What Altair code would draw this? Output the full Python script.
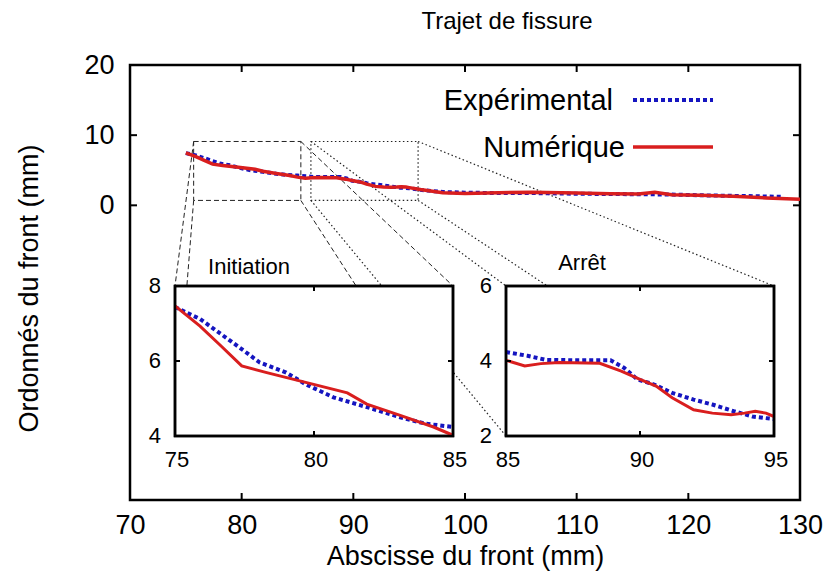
import altair as alt
import pandas as pd

# ---------------- data ----------------
exp_x = [75.0, 75.9, 77.1, 78.05, 79.0, 79.7, 80.7, 81.9, 83.1, 84.0, 85.0,
         85.8, 86.5, 87.6, 88.9, 89.4, 89.9, 90.5, 91.2, 92.0, 92.7, 93.5, 94.2, 95.0,
         96.0, 98.0, 100.0, 103.0, 106.0, 110.0, 114.0, 118.0, 122.0, 126.0, 128.5]
exp_y = [7.44, 7.12, 6.48, 5.96, 5.69, 5.38, 5.03, 4.77, 4.50, 4.33, 4.24,
         4.14, 4.03, 4.02, 4.02, 3.82, 3.51, 3.38, 3.15, 2.97, 2.84, 2.66, 2.52, 2.45,
         2.2, 1.9, 1.8, 1.75, 1.75, 1.65, 1.6, 1.55, 1.4, 1.3, 1.2]

num_x = [75.0, 75.9, 76.6, 77.4, 78.3, 79.7, 81.2, 81.9, 83.1, 84.3, 85.0,
         85.7, 86.3, 87.0, 88.5, 89.3, 90.0, 90.6, 91.2, 92.0, 92.7, 93.4, 93.9, 94.3, 94.7, 95.0,
         96.0, 98.0, 100.0, 103.0, 106.0, 110.0, 113.0, 115.5, 117.0, 118.5, 121.0, 124.0, 127.0, 130.0]
num_y = [7.47, 6.93, 6.44, 5.87, 5.69, 5.43, 5.15, 4.85, 4.55, 4.24, 4.02,
         3.87, 3.93, 3.96, 3.94, 3.73, 3.51, 3.33, 3.02, 2.70, 2.61, 2.57, 2.61, 2.66, 2.61, 2.52,
         2.25, 1.8, 1.7, 1.8, 1.85, 1.75, 1.65, 1.6, 1.85, 1.5, 1.45, 1.3, 1.05, 0.85]

x_labels = [70, 80, 90, 100, 110, 120, 130]
x_ticks = [80, 90, 100, 110, 120]
y_labels = [0, 10, 20]
y_ticks = [0, 10]

zoom1_x = [75.7, 85.3]
zoom2_x = [86.2, 95.8]
zoom_y = [0.7, 9.1]

ins1_x = [75, 80, 85]
ins1_y = [4, 6, 8]
ins2_x = [85, 90, 95]
ins2_y = [2, 4, 6]

# ---------------- layout / style ----------------
FONT = "Liberation Sans"
W, H = 670, 435
RED = "#d91e1e"
BLUE = "#1515c0"
XD = [70, 130]
YD = [-42, 20]

# inset boxes in plot pixels: left, right, top, bottom
BOX1 = (45, 323, 221, 371)
BOX2 = (376, 644, 221, 371)


def mx(px):
    return XD[0] + px * (XD[1] - XD[0]) / W


def my(py):
    return YD[1] - py * (YD[1] - YD[0]) / H


exp_df = pd.DataFrame({"x": exp_x, "y": exp_y})
num_df = pd.DataFrame({"x": num_x, "y": num_y})

sx = alt.Scale(domain=XD, nice=False, zero=False)
sy = alt.Scale(domain=YD, nice=False, zero=False)
MX = lambda f: alt.X(f, scale=sx, axis=None)
MY = lambda f: alt.Y(f, scale=sy, axis=None)

main_axis_x = alt.Axis(values=x_labels, ticks=False, domain=False, grid=False,
                       labelFontSize=27, labelFont=FONT, labelColor="black",
                       labelPadding=12, labelFlush=False, labelOverlap=False,
                       title="Abscisse du front (mm)", titleFontSize=27, titleFont=FONT,
                       titleFontWeight="normal", titleColor="black",
                       titleX=335, titleY=56, titleBaseline="middle", titleAlign="center")
main_axis_y = alt.Axis(values=y_labels, ticks=False, domain=False, grid=False,
                       labelFontSize=27, labelFont=FONT, labelColor="black",
                       labelPadding=16, labelFlush=False, labelOverlap=False,
                       title="Ordonnés du front (mm)", titleFontSize=27, titleFont=FONT,
                       titleFontWeight="normal", titleColor="black",
                       titleX=-101, titleY=223, titleBaseline="middle", titleAlign="center",
                       titleAngle=270)


def conn_df(zx, box):
    L, R, T, B = box
    rows = [
        (zx[0], zoom_y[1], mx(L), my(T)),
        (zx[0], zoom_y[0], mx(L), my(B)),
        (zx[1], zoom_y[1], mx(R), my(T)),
        (zx[1], zoom_y[0], mx(R), my(B)),
    ]
    return pd.DataFrame(rows, columns=["x", "y", "x2", "y2"])


def zoom_layers(zx, box, dash, width):
    rect = alt.Chart(pd.DataFrame({"x": [zx[0]], "x2": [zx[1]], "y": [zoom_y[0]], "y2": [zoom_y[1]]})).mark_rect(
        fill=None, fillOpacity=0, stroke="#222", strokeWidth=width, strokeDash=dash
    ).encode(x=MX("x:Q"), x2="x2:Q", y=MY("y:Q"), y2="y2:Q")
    conn = alt.Chart(conn_df(zx, box)).mark_rule(
        stroke="#222", strokeWidth=width, strokeDash=dash
    ).encode(x=MX("x:Q"), x2="x2:Q", y=MY("y:Q"), y2="y2:Q")
    return [rect, conn]


main_exp = alt.Chart(exp_df).mark_line(color=BLUE, strokeWidth=4, strokeDash=[4, 3]).encode(
    x=alt.X("x:Q", scale=sx, axis=main_axis_x),
    y=alt.Y("y:Q", scale=sy, axis=main_axis_y),
    order="x:Q",
)
main_num = alt.Chart(num_df).mark_line(color=RED, strokeWidth=3.5).encode(
    x=MX("x:Q"), y=MY("y:Q"), order="x:Q",
)

xt_df = pd.DataFrame({"t": x_ticks})
yt_df = pd.DataFrame({"t": y_ticks})
TL = 7
main_ticks = [
    alt.Chart(xt_df).mark_rule(color="black", strokeWidth=2).encode(
        x=MX("t:Q"), y=alt.value(H), y2=alt.value(H - TL)),
    alt.Chart(xt_df).mark_rule(color="black", strokeWidth=2).encode(
        x=MX("t:Q"), y=alt.value(0), y2=alt.value(TL)),
    alt.Chart(yt_df).mark_rule(color="black", strokeWidth=2).encode(
        y=MY("t:Q"), x=alt.value(0), x2=alt.value(TL)),
    alt.Chart(yt_df).mark_rule(color="black", strokeWidth=2).encode(
        y=MY("t:Q"), x=alt.value(W), x2=alt.value(W - TL)),
]

# legend
leg_text = alt.Chart(pd.DataFrame({"t": ["Expérimental", "Numérique"], "px": [483, 495], "py": [45, 92]})).mark_text(
    align="right", baseline="alphabetic", font=FONT, fontSize=29, color="black"
).encode(text="t:N", x=alt.X("px:Q", scale=None, axis=None), y=alt.Y("py:Q", scale=None, axis=None))
leg_exp = alt.Chart(pd.DataFrame({"t": ["Expérimental"]})).mark_rule(
    color=BLUE, strokeWidth=4, strokeDash=[4, 3]).encode(x=alt.value(503), x2=alt.value(583), y=alt.value(35))
leg_num = alt.Chart(pd.DataFrame({"t": ["Numérique"]})).mark_rule(
    color=RED, strokeWidth=3.5).encode(x=alt.value(503), x2=alt.value(583), y=alt.value(82))

title = alt.Chart(pd.DataFrame({"t": ["Trajet de fissure"]})).mark_text(
    align="center", baseline="middle", font=FONT, fontSize=24, color="black"
).encode(text="t:N", x=alt.value(377), y=alt.value(-43))

main_layers = [
    *zoom_layers(zoom1_x, BOX1, [5, 3], 1),
    *zoom_layers(zoom2_x, BOX2, [1.5, 2.5], 1.2),
    main_exp, main_num, *main_ticks, leg_text, leg_exp, leg_num, title,
]


def inset(xd, yd, box, xl, yl, name, tpos):
    L, R, T, B = box
    xs = alt.Scale(domain=xd, range=[L, R], nice=False, zero=False)
    ys = alt.Scale(domain=yd, range=[B, T], nice=False, zero=False)
    X = lambda f: alt.X(f, scale=xs, axis=None)
    Y = lambda f: alt.Y(f, scale=ys, axis=None)
    box_df = pd.DataFrame({"x": [xd[0]], "x2": [xd[1]], "y": [yd[0]], "y2": [yd[1]]})
    bg = alt.Chart(box_df).mark_rect(fill="white", stroke="black", strokeWidth=2.5).encode(
        x=X("x:Q"), x2="x2:Q", y=Y("y:Q"), y2="y2:Q")
    flt = alt.FieldRangePredicate(field="x", range=xd)
    e = alt.Chart(exp_df).transform_filter(flt).mark_line(
        color=BLUE, strokeWidth=4, strokeDash=[4, 3]).encode(x=X("x:Q"), y=Y("y:Q"), order="x:Q")
    n = alt.Chart(num_df).transform_filter(flt).mark_line(
        color=RED, strokeWidth=3).encode(x=X("x:Q"), y=Y("y:Q"), order="x:Q")
    frame = alt.Chart(box_df).mark_rect(fill=None, fillOpacity=0, stroke="black", strokeWidth=2.5).encode(
        x=X("x:Q"), x2="x2:Q", y=Y("y:Q"), y2="y2:Q")
    tx = pd.DataFrame({"t": [xl[1]]})
    ty = pd.DataFrame({"t": [yl[1]]})
    ticks = [
        alt.Chart(tx).mark_rule(color="black", strokeWidth=2).encode(x=X("t:Q"), y=alt.value(B), y2=alt.value(B - 5)),
        alt.Chart(tx).mark_rule(color="black", strokeWidth=2).encode(x=X("t:Q"), y=alt.value(T), y2=alt.value(T + 5)),
        alt.Chart(ty).mark_rule(color="black", strokeWidth=2).encode(y=Y("t:Q"), x=alt.value(L), x2=alt.value(L + 5)),
        alt.Chart(ty).mark_rule(color="black", strokeWidth=2).encode(y=Y("t:Q"), x=alt.value(R), x2=alt.value(R - 5)),
    ]
    xlab = alt.Chart(pd.DataFrame({"t": xl})).mark_text(
        align="center", baseline="middle", font=FONT, fontSize=22, color="black", dx=2
    ).encode(x=X("t:Q"), y=alt.value(B + 24), text="t:N")
    ylab = alt.Chart(pd.DataFrame({"t": yl})).mark_text(
        align="right", baseline="middle", font=FONT, fontSize=22, color="black"
    ).encode(y=Y("t:Q"), x=alt.value(L - 14), text="t:N")
    ttl = alt.Chart(pd.DataFrame({"t": [name]})).mark_text(
        align="center", baseline="alphabetic", font=FONT, fontSize=22, color="black"
    ).encode(x=alt.value(tpos[0]), y=alt.value(tpos[1]), text="t:N")
    return [bg, e, n, frame, *ticks, xlab, ylab, ttl]


in1 = inset([75, 85], [4, 8], BOX1, ins1_x, ins1_y, "Initiation", (119, 209))
in2 = inset([85, 95], [2, 6], BOX2, ins2_x, ins2_y, "Arrêt", (452, 205))

chart = alt.layer(*main_layers, *in1, *in2).resolve_scale(
    x="independent", y="independent"
).properties(
    width=W, height=H,
    padding={"left": 122, "top": 57, "right": 25, "bottom": 71},
    autosize=alt.AutoSizeParams(type="none"),
).configure(font=FONT).configure_view(stroke="black", strokeWidth=2.5)

chart.save("out.html", embed_options={"renderer": "svg", "actions": False})
